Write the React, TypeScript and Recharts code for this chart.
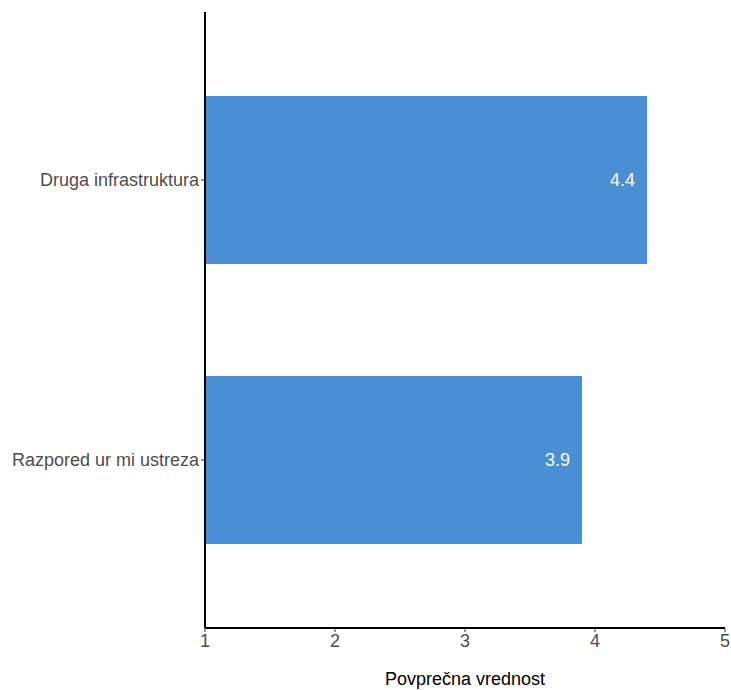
import { BarChart, Bar, XAxis, YAxis, LabelList } from "recharts"

// values
const CATEGORIES = ["Druga infrastruktura", "Razpored ur mi ustreza"]
const AVERAGES = [4.4, 3.9]
const X_TICKS = [1, 2, 3, 4, 5]

const data = CATEGORIES.map((name, i) => ({ name, value: AVERAGES[i] }))

const FONT = "'Liberation Sans', Arial, sans-serif"

export default function App() {
  return (
    <div style={{ position: "absolute", left: 0, top: 0, fontFamily: FONT }}>
      <BarChart
        width={731}
        height={690}
        data={data}
        layout="vertical"
        margin={{ top: 12, right: 6, bottom: 0, left: 0 }}
        barCategoryGap="20%"
      >
        <XAxis
          type="number"
          domain={[1, 5]}
          ticks={X_TICKS}
          allowDataOverflow
          height={62}
          tickSize={4}
          axisLine={{ stroke: "#000", strokeWidth: 2 }}
          tickLine={{ stroke: "#333" }}
          tick={{ fill: "#4d4d4d", fontSize: 18, fontFamily: FONT }}
          label={{
            value: "Povprečna vrednost",
            position: "insideBottom",
            offset: 5,
            fill: "#000",
            fontSize: 18,
            fontFamily: FONT,
          }}
        />
        <YAxis
          type="category"
          dataKey="name"
          width={205}
          padding={{ top: 28, bottom: 28 }}
          tickSize={4}
          axisLine={{ stroke: "#000", strokeWidth: 2 }}
          tickLine={{ stroke: "#333" }}
          tick={{ fill: "#4d4d4d", fontSize: 18, fontFamily: FONT }}
        />
        <Bar dataKey="value" fill="#4a8fd6" isAnimationActive={false}>
          <LabelList
            dataKey="value"
            position="insideRight"
            offset={12}
            fill="#fff"
            fontSize={18}
            fontFamily={FONT}
            formatter={(v: number) => v.toFixed(1)}
          />
        </Bar>
      </BarChart>
    </div>
  )
}
